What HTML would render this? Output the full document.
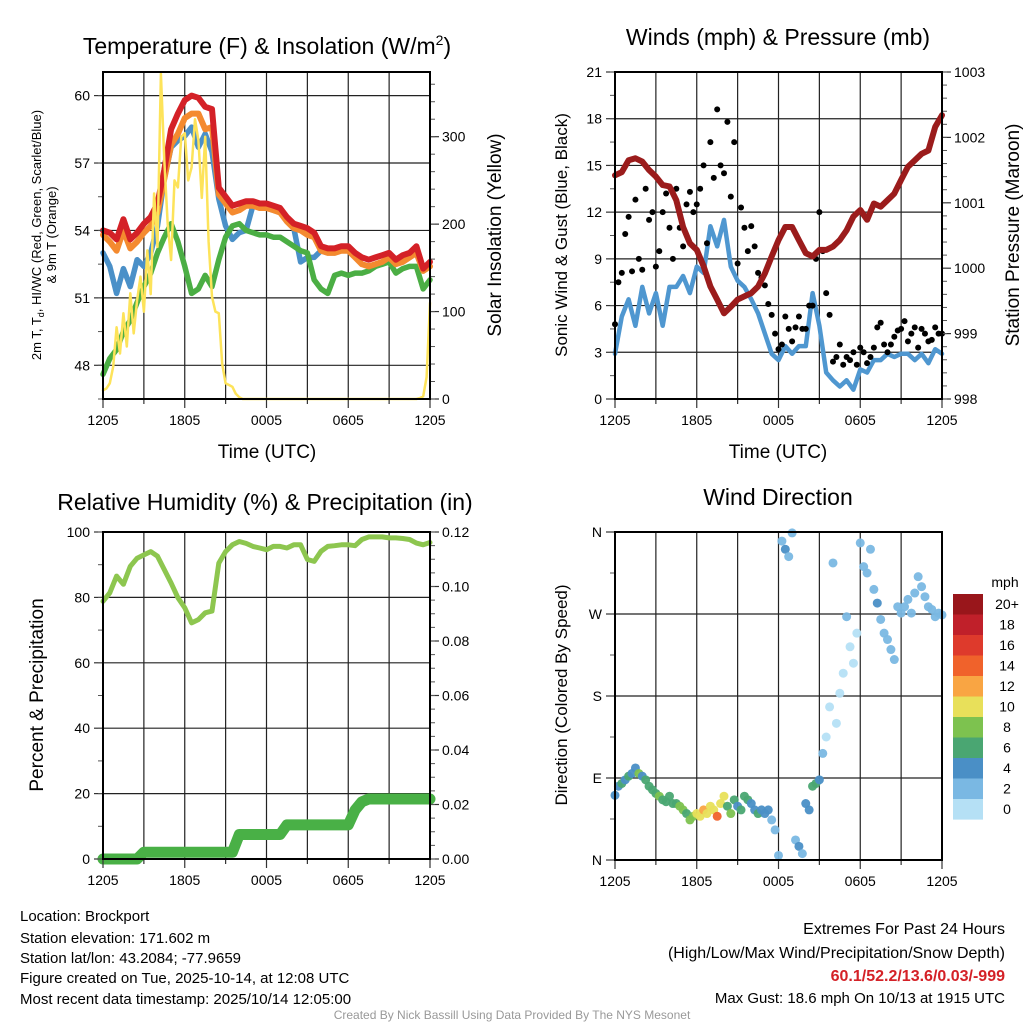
<!DOCTYPE html>
<html><head><meta charset="utf-8"><style>
html,body{margin:0;padding:0;background:#fff;}
svg{display:block;font-family:"Liberation Sans",Arial,sans-serif;}
</style></head><body>
<svg id="c" width="1024" height="1024" viewBox="0 0 1024 1024">
<g id="grid"></g><g id="marks"></g><g id="axes"></g>
<g font-size="23" text-anchor="middle" fill="#000">
<text x="267" y="54">Temperature (F) &amp; Insolation (W/m<tspan font-size="14" dy="-9">2</tspan><tspan dy="9">)</tspan></text>
<text x="778" y="45">Winds (mph) &amp; Pressure (mb)</text>
<text x="265" y="510">Relative Humidity (%) &amp; Precipitation (in)</text>
<text x="778" y="505">Wind Direction</text>
</g>
<g font-size="19" text-anchor="middle">
<text x="267" y="458">Time (UTC)</text>
<text x="778" y="458">Time (UTC)</text>
<text transform="translate(501,235) rotate(-90)">Solar Insolation (Yellow)</text>
<text transform="translate(567,235) rotate(-90)" font-size="17">Sonic Wind &amp; Gust (Blue, Black)</text>
<text transform="translate(1019,235) rotate(-90)">Station Pressure (Maroon)</text>
<text transform="translate(43,695) rotate(-90)">Percent &amp; Precipitation</text>
<text transform="translate(567,695) rotate(-90)" font-size="17">Direction (Colored By Speed)</text>
<text transform="translate(41,235) rotate(-90)" font-size="13">2m T, T<tspan font-size="9" dy="3">d</tspan><tspan dy="-3">, HI/WC (Red, Green, Scarlet/Blue)</tspan></text>
<text transform="translate(56,235) rotate(-90)" font-size="13">&amp; 9m T (Orange)</text>
</g>
<g font-size="15" fill="#000">
<text x="20" y="921">Location: Brockport</text>
<text x="20" y="943">Station elevation: 171.602 m</text>
<text x="20" y="963">Station lat/lon: 43.2084; -77.9659</text>
<text x="20" y="983">Figure created on Tue, 2025-10-14, at 12:08 UTC</text>
<text x="20" y="1004">Most recent data timestamp: 2025/10/14 12:05:00</text>
</g>
<g font-size="16" fill="#000" text-anchor="end">
<text x="1005" y="934">Extremes For Past 24 Hours</text>
<text x="1005" y="958">(High/Low/Max Wind/Precipitation/Snow Depth)</text>
<text x="1005" y="981" fill="#d42127" font-weight="bold">60.1/52.2/13.6/0.03/-999</text>
<text x="1005" y="1003" font-size="15">Max Gust: 18.6 mph On 10/13 at 1915 UTC</text>
</g>
<text x="512" y="1019" font-size="12" fill="#999" text-anchor="middle">Created By Nick Bassill Using Data Provided By The NYS Mesonet</text>
</svg>
<script>
const timeLabels=["1205","1805","0005","0605","1205"];
const tempRed=[54.0,53.9,53.6,54.5,53.6,53.9,54.3,54.6,55.2,56.7,58.5,59.2,59.8,60.0,59.9,59.5,59.4,55.9,55.5,55.1,55.2,55.3,55.3,55.2,55.2,55.1,55.0,54.6,54.3,54.2,54.1,53.9,53.3,53.2,53.2,53.3,53.3,53.0,52.8,52.7,52.8,52.9,53.0,52.7,52.9,53.0,53.3,52.3,52.6];
const temp9m=[53.8,53.5,53.1,54.0,53.2,53.5,53.9,54.2,54.8,56.3,57.8,58.3,59.0,59.2,59.2,58.5,58.6,55.6,55.2,54.8,54.9,55.1,55.1,55.0,55.0,54.9,54.8,54.4,54.1,54.0,53.8,53.7,53.1,53.0,53.0,53.1,53.1,52.8,52.5,52.4,52.5,52.6,52.8,52.5,52.6,52.8,53.0,52.2,52.4];
const windChill=[53.0,52.4,51.2,52.3,51.5,52.7,52.4,53.0,54.2,56.3,57.7,58.0,58.2,58.6,57.7,58.3,57.5,55.4,54.2,53.6,53.9,54.0,55.1,55.0,55.0,54.9,54.8,54.4,54.1,52.6,52.8,52.8,53.1,53.0,53.0,53.1,53.1,52.8,52.5,52.4,52.5,52.6,52.8,52.5,52.6,52.8,53.0,52.2,52.4];
const dewpoint=[47.6,48.3,48.7,49.5,50.0,50.8,51.5,52.1,53.0,53.7,54.3,53.5,52.4,51.2,51.4,52.0,51.5,52.7,53.7,54.2,54.3,54.0,53.9,53.8,53.8,53.7,53.7,53.5,53.3,53.1,53.0,51.8,51.4,51.2,52.0,52.1,52.0,52.1,52.1,52.2,52.4,52.5,52.6,52.1,52.3,52.4,52.4,51.4,51.8];
const solar=[10,12,18,37,82,52,98,60,121,75,113,140,100,170,120,235,174,372,273,200,159,250,242,300,304,250,265,320,296,230,300,180,117,100,98,40,18,16,14,6,2,
0,0,0,0,0,0,0,0,0,0,0,0,0,0,0,0,0,0,0,0,0,0,0,0,0,0,0,0,0,0,0,0,0,0,0,0,0,0,0,0,0,0,0,0,0,0,0,0,0,0,0,0,1,3,25,110];
const pressure=[1001.42,1001.47,1001.65,1001.68,1001.63,1001.5,1001.4,1001.27,1001.25,1001.04,1000.63,1000.38,1000.28,1000.03,999.72,999.52,999.31,999.41,999.52,999.57,999.62,999.72,999.92,1000.18,1000.43,1000.63,1000.63,1000.43,1000.23,1000.18,1000.28,1000.28,1000.33,1000.43,1000.58,1000.79,1000.89,1000.74,1000.99,1000.94,1001.04,1001.14,1001.35,1001.55,1001.65,1001.75,1001.8,1002.16,1002.34];
const windSpeed=[2.9,5.3,6.4,4.7,7.2,5.5,6.8,4.7,7.2,7.2,7.9,6.8,8.5,8.1,11.1,9.8,11.5,8.5,7.6,7.2,6.4,5.5,4.2,2.9,2.5,3.4,2.9,3.4,3.4,6.8,4.7,1.7,1.2,0.8,1.2,0.6,1.9,1.7,2.5,2.5,2.9,2.7,2.9,2.9,2.5,2.9,2.3,3.2,2.9];
const gusts=[4.8,7.5,8.1,10.6,11.7,8.2,12.8,9.0,8.3,13.5,11.5,12.0,8.5,9.5,12.0,13.2,11.0,9.0,13.5,11.0,9.8,12.5,13.3,12.0,12.5,13.5,15.0,10.0,16.5,14.2,18.6,15.0,14.5,17.8,13.0,16.5,8.7,12.3,11.0,9.5,11.1,9.8,8.1,7.8,7.3,6.1,5.4,4.2,3.2,3.5,5.3,4.5,3.7,4.6,5.3,4.5,4.5,6.0,6.0,9.0,12.0,9.5,6.8,5.4,2.4,2.7,3.5,2.2,2.7,2.5,3.0,2.2,3.3,3.0,2.3,2.7,3.3,4.6,4.9,3.5,3.0,3.5,4.0,4.4,4.5,5.0,3.7,4.2,4.6,3.3,4.5,4.2,3.7,3.8,4.6,4.2,4.2];
const humidity=[78.8,81.4,86.5,84,89.5,92,93,94,92.6,88.5,84.4,79.9,76.8,72.2,73.2,75.3,75.8,90.5,94,96.1,97.1,96.5,95.6,95.1,94.6,95.6,95.6,95.1,96.1,96.1,91.6,91,94.1,95.6,95.8,96.1,96.1,95.8,97.7,98.5,98.5,98.5,98.2,98.2,98,97.7,96.6,96.1,96.8];
const precip=[0,0,0,0,0,0,0.0025,0.0025,0.0025,0.0025,0.0025,0.0025,0.0025,0.0025,0.0025,0.0025,0.0025,0.0025,0.0025,0.0025,0.009,0.009,0.009,0.009,0.009,0.009,0.009,0.0125,0.0125,0.0125,0.0125,0.0125,0.0125,0.0125,0.0125,0.0125,0.0125,0.018,0.021,0.022,0.022,0.022,0.022,0.022,0.022,0.022,0.022,0.022,0.022];
const windDir=[71,81,84,88,92,95,101,95,92,88,81,77,73,70,66,64,70,62,62,59,55,51,44,48,51,48,55,51,59,55,48,62,70,59,51,66,59,55,70,66,62,55,51,55,51,55,44,33,5,350,341,333,359,22,15,7,62,55,81,84,88,117,135,168,326,150,183,205,267,234,216,249,348,322,315,341,297,282,264,249,242,231,220,278,271,278,286,271,293,311,300,289,278,275,267,271,269];
const dirSpeed=[4,5,6,4,6,5,4,8,4,6,6,6,6,8,6,6,6,6,7,8,8,7,8,9,10,10,12,10,10,11,14,10,10,6,8,6,4,6,6,6,4,4,6,4,4,4,2,2,2,2,4,2,2,2,4,2,4,4,6,6,4,2,0,0,2,0,0,0,2,0,0,0,2,2,2,2,2,4,2,2,2,2,2,2,2,2,2,2,2,2,2,2,2,2,2,2,2];
const speedBins=["0","2","4","6","8","10","12","14","16","18","20+"];
const binColors=["#b5e0f5","#7ab8e3","#4a8fc6","#4aa672","#7dc24f","#e8e05a","#f9a543","#f0622b","#de3a2c","#c0202a","#99161b"];

const NS="http://www.w3.org/2000/svg";
const gGrid=document.getElementById('grid'),gMarks=document.getElementById('marks'),gAxes=document.getElementById('axes');
function mk(tag,attrs,parent){const e=document.createElementNS(NS,tag);for(const k in attrs)e.setAttribute(k,attrs[k]);parent.appendChild(e);return e;}
function panel(x0,y0,x1,y1){return{x0,y0,x1,y1,
 x:h=>x0+(x1-x0)*h/24,
 ly:null,ry:null};}
function lin(d0,d1,p0,p1){return v=>p0+(v-d0)*(p1-p0)/(d1-d0);}

const P1=panel(103,72,430,399);P1.ly=lin(46.5,61.05,399,72);P1.ry=lin(0,374,399,72);
const P2=panel(615,72,942,399);P2.ly=lin(0,21,399,72);P2.ry=lin(998,1003,399,72);
const P3=panel(103,532,430,859);P3.ly=lin(0,100,859,532);P3.ry=lin(0,0.12,859,532);
const P4=panel(615,532,942,860);P4.ly=lin(0,360,860,532);

function frame(P,name,leftTicks,leftMinor,leftLabels,rightTicks,rightMinor,rightLabels,ry){
  // vertical grid every 3h
  for(let h=3;h<24;h+=3){const l=mk('line',{x1:P.x(h),x2:P.x(h),y1:P.y0,y2:P.y1,stroke:'#222','stroke-width':1.2},gGrid);
  
  }
  leftTicks.forEach((v,i)=>{const y=P.ly(v);
    if(y>P.y0+1&&y<P.y1-1){const l=mk('line',{x1:P.x0,x2:P.x1,y1:y,y2:y,stroke:'#222','stroke-width':1.2},gGrid);
    
    }
    mk('line',{x1:P.x0-9,x2:P.x0,y1:y,y2:y,stroke:'#333','stroke-width':1.2},gAxes);
    const t=mk('text',{x:P.x0-13,y:y+5,'font-size':14,'text-anchor':'end'},gAxes);t.textContent=leftLabels[i];
    
    });
  leftMinor.forEach(v=>{const y=P.ly(v);mk('line',{x1:P.x0-5,x2:P.x0,y1:y,y2:y,stroke:'#555','stroke-width':1},gAxes);});
  if(rightTicks){rightTicks.forEach((v,i)=>{const y=ry(v);
    mk('line',{x1:P.x1,x2:P.x1+9,y1:y,y2:y,stroke:'#333','stroke-width':1.2},gAxes);
    const t=mk('text',{x:P.x1+12,y:y+5,'font-size':14},gAxes);t.textContent=rightLabels[i];
    
    });
    rightMinor.forEach(v=>{const y=ry(v);mk('line',{x1:P.x1,x2:P.x1+5,y1:y,y2:y,stroke:'#555','stroke-width':1},gAxes);});}
  for(let h=0;h<=24;h+=3){mk('line',{x1:P.x(h),x2:P.x(h),y1:P.y1,y2:P.y1+(h%6==0?9:5),stroke:'#333','stroke-width':1.2},gAxes);}
  timeLabels.forEach((s,i)=>{const t=mk('text',{x:P.x(i*6),y:P.y1+26,'font-size':14,'text-anchor':'middle'},gAxes);t.textContent=s;
    
    });
  const r=mk('rect',{x:P.x0,y:P.y0,width:P.x1-P.x0,height:P.y1-P.y0,fill:'none',stroke:'#000','stroke-width':2},gAxes);
  
  
}
function range(a,b,s){const r=[];for(let v=a;v<=b+1e-9;v+=s)r.push(+v.toFixed(4));return r;}

frame(P1,'temp',[48,51,54,57,60],range(46.5,61,1.5),["48","51","54","57","60"],[0,100,200,300],range(0,360,20),["0","100","200","300"],P1.ry);
frame(P2,'wind',range(0,21,3),range(1.5,21,1.5),range(0,21,3).map(String),[998,999,1000,1001,1002,1003],range(998,1003,0.2),["998","999","1000","1001","1002","1003"],P2.ry);
frame(P3,'humidity',range(0,100,20),range(0,100,10),["0","20","40","60","80","100"],range(0,0.12,0.02),range(0,0.12,0.005),["0.00","0.02","0.04","0.06","0.08","0.10","0.12"],P3.ry);
frame(P4,'direction',[0,90,180,270,360],[45,135,225,315],["N","E","S","W","N"],null,null,null,null);

function path(arr,dt,P,yf,color,w,name,cap){
  let d='';arr.forEach((v,i)=>{d+=(i?'L':'M')+P.x(i*dt).toFixed(1)+','+yf(v).toFixed(1);});
  const p=mk('path',{d,fill:'none',stroke:color,'stroke-width':w,'stroke-linejoin':'round','stroke-linecap':cap||'round'},gMarks);
  
  
}
// clip for panels
const defs=mk('defs',{},document.getElementById('c'));
// Panel 1
path(windChill,0.5,P1,P1.ly,'#4a90c8',5.5,'wind-chill-line');
path(dewpoint,0.5,P1,P1.ly,'#4bae44',5.5,'dewpoint-line');
path(temp9m,0.5,P1,P1.ly,'#f48a2f',6,'temp-9m-line');
path(tempRed,0.5,P1,P1.ly,'#d42127',6,'temp-2m-line');
path(solar,0.25,P1,P1.ry,'#fde35a',2.5,'solar-insolation-line');
// Panel 2
path(windSpeed,0.5,P2,P2.ly,'#4f97d0',4.5,'sonic-wind-line');
gusts.forEach((v,i)=>{const c=mk('circle',{cx:P2.x(i*0.25),cy:P2.ly(v),r:3,fill:'#000'},gMarks);
  
  });
path(pressure,0.5,P2,P2.ry,'#9b1c1c',6,'pressure-line');
// Panel 3
path(humidity,0.5,P3,P3.ly,'#8dc64f',5,'humidity-line');
path(precip,0.5,P3,P3.ry,'#49b046',11,'precipitation-line');
// Panel 4
windDir.forEach((v,i)=>{const b=Math.min(10,Math.floor(dirSpeed[i]/2));
  const c=mk('circle',{cx:P4.x(i*0.25),cy:P4.ly(v),r:4.5,fill:binColors[b],opacity:0.95},gMarks);
  
  });
// colorbar
const cb=mk('g',{},gAxes);


const lt=mk('text',{x:1005,y:587,'font-size':14,'text-anchor':'middle'},cb);lt.textContent='mph';


for(let k=0;k<11;k++){const i=10-k;const y=594+k*20.5;
  const r=mk('rect',{x:953,y:y,width:30,height:20.6,fill:binColors[i]},cb);
  
  
  const t=mk('text',{x:1007,y:y+15,'font-size':14,'text-anchor':'middle'},cb);t.textContent=speedBins[i];
  
  }
</script>
</body></html>
